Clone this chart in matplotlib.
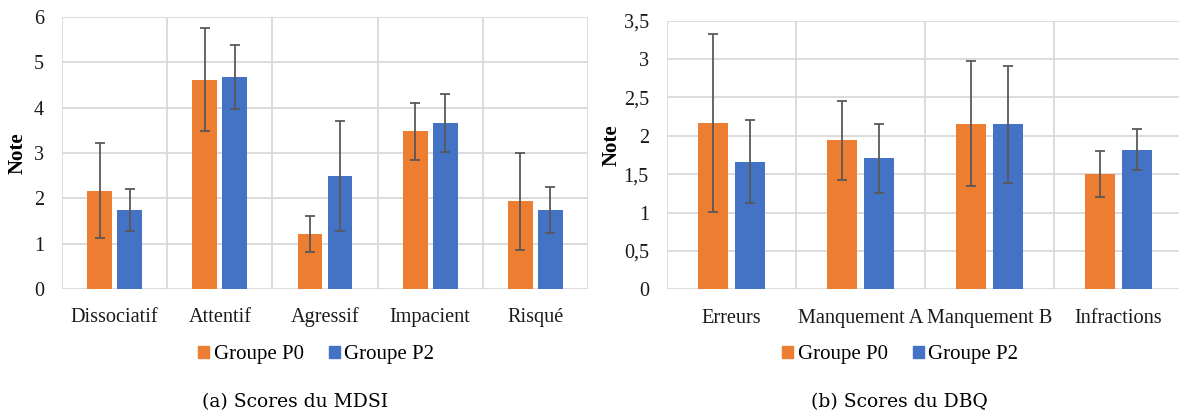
import numpy as np
import matplotlib
matplotlib.use("Agg")
import matplotlib.pyplot as plt
from matplotlib.patches import Patch
from matplotlib.ticker import FixedLocator, FuncFormatter

plt.rcParams['font.family'] = ['Liberation Serif', 'DejaVu Serif']

# (a) MDSI
mdsi_cats = ['Dissociatif', 'Attentif', 'Agressif', 'Impacient', 'Risqué']
mdsi_p0 = [2.17, 4.62, 1.21, 3.48, 1.94]
mdsi_p0_err = [1.04, 1.13, 0.39, 0.63, 1.07]
mdsi_p2 = [1.74, 4.68, 2.50, 3.67, 1.74]
mdsi_p2_err = [0.47, 0.70, 1.21, 0.64, 0.50]

# (b) DBQ
dbq_cats = ['Erreurs', 'Manquement A', 'Manquement B', 'Infractions']
dbq_p0 = [2.17, 1.94, 2.16, 1.50]
dbq_p0_err = [1.16, 0.52, 0.82, 0.30]
dbq_p2 = [1.66, 1.71, 2.15, 1.82]
dbq_p2_err = [0.54, 0.45, 0.76, 0.27]

orange = '#ED7D31'
blue = '#4472C4'
grid = '#D9D9D9'
errc = '#595959'

W, H = 1179, 416
fig = plt.figure(figsize=(W / 100, H / 100), dpi=100)


def px(x0, x1, ytop, ybot):
    return [x0 / W, 1 - ybot / H, (x1 - x0) / W, (ybot - ytop) / H]


def fmt(v, pos):
    return ('%g' % v).replace('.', ',')


def draw(ax, cats, p0, e0, p2, e2, ymax):
    x = np.arange(len(cats))
    bw = 0.235
    off = 0.143
    ax.bar(x - off, p0, bw, color=orange, zorder=3)
    ax.bar(x + off, p2, bw, color=blue, zorder=3)
    ax.errorbar(x - off, p0, yerr=e0, fmt='none', ecolor=errc, elinewidth=1.3,
                capsize=3.5, capthick=1.3, zorder=4)
    ax.errorbar(x + off, p2, yerr=e2, fmt='none', ecolor=errc, elinewidth=1.3,
                capsize=3.5, capthick=1.3, zorder=4)
    ax.set_xlim(-0.5, len(cats) - 0.5)
    ax.set_ylim(0, ymax)
    ax.set_xticks(x)
    ax.set_xticklabels(cats, fontsize=14.6, va='baseline')
    ax.xaxis.set_minor_locator(FixedLocator(np.arange(len(cats) + 1) - 0.5))
    ax.grid(axis='x', which='minor', color=grid, lw=1.3, zorder=0)
    ax.grid(axis='y', which='major', color=grid, lw=1.3, zorder=0)
    ax.yaxis.set_major_formatter(FuncFormatter(fmt))
    ax.tick_params(axis='both', which='both', length=0, labelsize=14.6, colors='#1a1a1a')
    ax.tick_params(axis='x', pad=24)
    ax.tick_params(axis='y', pad=13)
    for s in ax.spines.values():
        s.set_visible(False)
    ax.set_axisbelow(True)


ax1 = fig.add_axes(px(62, 588, 17, 289))
draw(ax1, mdsi_cats, mdsi_p0, mdsi_p0_err, mdsi_p2, mdsi_p2_err, 6)
ax1.set_yticks(np.arange(0, 6.1, 1))

ax2 = fig.add_axes(px(667, 1183, 20.7, 289.3))
draw(ax2, dbq_cats, dbq_p0, dbq_p0_err, dbq_p2, dbq_p2_err, 3.5)
ax2.set_yticks(np.arange(0, 3.51, 0.5))

fig.text(18 / W, 1 - 153 / H, 'Note', rotation=90, ha='center', va='center',
         fontsize=15, fontweight='bold')
fig.text(612 / W, 1 - 145 / H, 'Note', rotation=90, ha='center', va='center',
         fontsize=15, fontweight='bold')

handles = [Patch(color=orange, label='Groupe P0'), Patch(color=blue, label='Groupe P2')]
for cx in (316 / W, 900 / W):
    fig.legend(handles=handles, loc='center', bbox_to_anchor=(cx, 1 - 355 / H),
               ncol=2, frameon=False, fontsize=15, handlelength=0.55,
               handleheight=0.55, handletextpad=0.2, columnspacing=1.2)

fig.text(295 / W, 1 - 402 / H, '(a) Scores du MDSI', ha='center', va='center',
         fontsize=13.5, family=['DejaVu Serif'])
fig.text(899 / W, 1 - 402 / H, '(b) Scores du DBQ', ha='center', va='center',
         fontsize=13.5, family=['DejaVu Serif'])

fig.savefig('out.png', dpi=100)
